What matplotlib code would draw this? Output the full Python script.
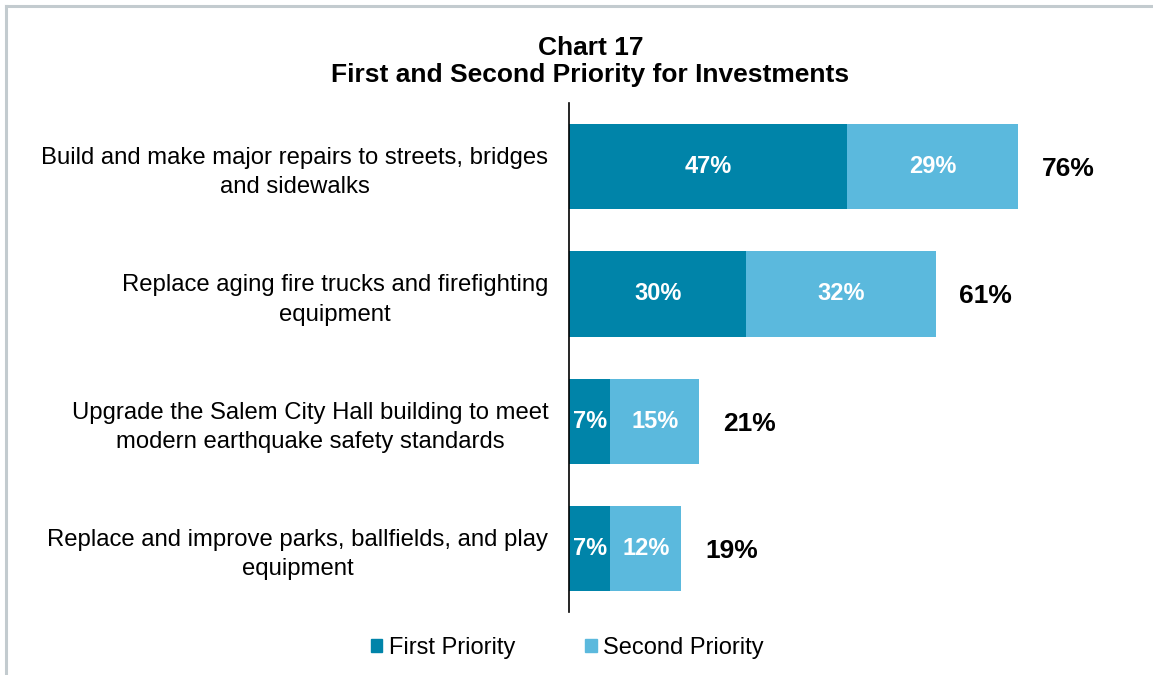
import matplotlib
matplotlib.use("Agg")
import matplotlib.pyplot as plt
from matplotlib.patches import Patch
from matplotlib.lines import Line2D

plt.rcParams['font.family'] = ['Liberation Sans', 'DejaVu Sans']

categories = [
    "Build and make major repairs to streets, bridges\nand sidewalks",
    "Replace aging fire trucks and firefighting\nequipment",
    "Upgrade the Salem City Hall building to meet\nmodern earthquake safety standards",
    "Replace and improve parks, ballfields, and play\nequipment",
]
first_priority = [47, 30, 7, 7]
second_priority = [29, 32, 15, 12]
total_labels = [76, 61, 21, 19]

dark_blue = "#0084a9"
light_blue = "#5bb9dd"

fig = plt.figure(figsize=(11.53, 6.75), dpi=100)

# grey frame along the top and left edges
fig.add_artist(Line2D([0.0055, 1.0], [0.9905, 0.9905], color="#c3cbcf", lw=2.2,
                      transform=fig.transFigure))
fig.add_artist(Line2D([0.0055, 0.0055], [0.0, 0.9905], color="#c3cbcf", lw=2.2,
                      transform=fig.transFigure))

ax = fig.add_axes([0.4935, 0.0933, 0.4605, 0.7541])
y = list(range(len(categories)))

ax.barh(y, first_priority, height=0.67, color=dark_blue, label="First Priority")
ax.barh(y, second_priority, left=first_priority, height=0.67, color=light_blue,
        label="Second Priority")

for i in y:
    f, s = first_priority[i], second_priority[i]
    ax.text(f / 2, i, f"{f}%", ha="center", va="center", color="white",
            fontsize=17, fontweight="bold")
    ax.text(f + s / 2, i, f"{s}%", ha="center", va="center", color="white",
            fontsize=17, fontweight="bold")
    ax.text(f + s + 8.5, i + 0.02, f"{total_labels[i]}%", ha="center", va="center",
            color="black", fontsize=19, fontweight="bold")

ax.set_xlim(0, 89.8)
ax.set_ylim(3.5, -0.5)
ax.set_yticks(y)
ax.set_yticklabels(categories, fontsize=17.2, multialignment="center",
                   linespacing=1.42)
ax.tick_params(axis="y", length=0, pad=15)
ax.set_xticks([])
for side in ["top", "right", "bottom"]:
    ax.spines[side].set_visible(False)
ax.spines["left"].set_linewidth(1.2)

fig.text(0.512, 0.909, "Chart 17\nFirst and Second Priority for Investments",
         ha="center", va="center", fontsize=19, fontweight="bold",
         linespacing=1.2)

handles = [Patch(color=dark_blue, label="First Priority"),
           Patch(color=light_blue, label="Second Priority")]
fig.legend(handles=handles, loc="center", bbox_to_anchor=(0.492, 0.04), ncol=2,
           frameon=False, fontsize=17, handlelength=0.5, handleheight=0.5,
           handletextpad=0.28, columnspacing=2.95)

fig.savefig("out.png", dpi=100)
